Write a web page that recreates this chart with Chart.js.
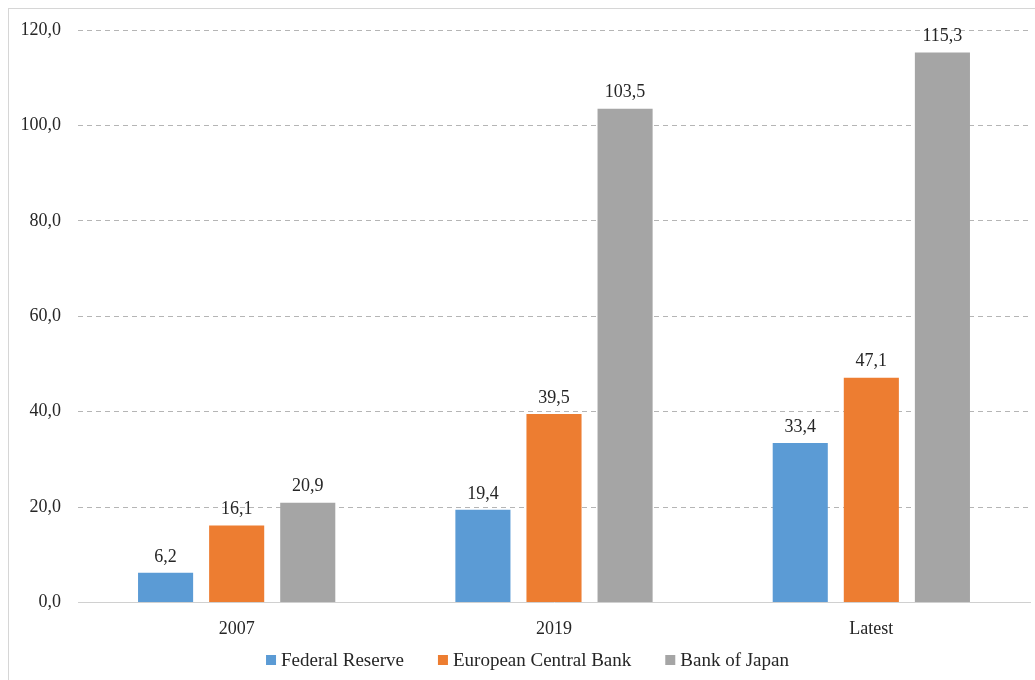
<!DOCTYPE html>
<html>
<head>
<meta charset="utf-8">
<script src="https://cdn.jsdelivr.net/npm/chart.js@4.4.1/dist/chart.umd.min.js"></script>
<style>
  html, body { margin: 0; padding: 0; background: #fff; }
  #frame { position: absolute; left: 8px; top: 8px; width: 1040px; height: 690px; border: 1px solid #d6d6d6; box-sizing: border-box; }
  #wrap { position: absolute; left: 0; top: 0; width: 1035px; height: 680px; }
</style>
</head>
<body>
<div id="frame"></div>
<div id="wrap"><canvas id="balance-chart"></canvas></div>
<script>
const categories = ['2007', '2019', 'Latest'];
const fedValues = [6.2, 19.4, 33.4];
const ecbValues = [16.1, 39.5, 47.1];
const bojValues = [20.9, 103.5, 115.3];

const fmt = v => v.toFixed(1).replace('.', ',');
const font = "'Liberation Serif', 'Times New Roman', serif";
const textColor = '#262626';

// value labels above each bar
const barLabels = {
    id: 'barLabels',
    afterDatasetsDraw(chart) {
        const ctx = chart.ctx;
        ctx.save();
        ctx.font = '18px ' + font;
        ctx.fillStyle = textColor;
        ctx.textAlign = 'center';
        ctx.textBaseline = 'bottom';
        chart.data.datasets.forEach((ds, i) => {
            chart.getDatasetMeta(i).data.forEach((bar, j) => {
                ctx.fillText(fmt(ds.data[j]), bar.x, bar.y - 7);
            });
        });
        ctx.restore();
    }
};

// legend row under the axis, wide gaps between entries
const bottomLegend = {
    id: 'bottomLegend',
    afterDraw(chart) {
        const ctx = chart.ctx;
        const box = 10, gapText = 5, gapItem = 34, y = 660;
        ctx.save();
        ctx.font = '19px ' + font;
        ctx.textBaseline = 'middle';
        const items = chart.data.datasets.map(ds => ({
            text: ds.label, color: ds.backgroundColor, w: ctx.measureText(ds.label).width
        }));
        const total = items.reduce((s, it) => s + box + gapText + it.w, 0) + gapItem * (items.length - 1);
        let x = chart.width / 2 + 10 - total / 2;
        items.forEach(it => {
            ctx.fillStyle = it.color;
            ctx.fillRect(x, y - box / 2, box, box);
            x += box + gapText;
            ctx.fillStyle = textColor;
            ctx.fillText(it.text, x, y + 1);
            x += it.w + gapItem;
        });
        ctx.restore();
    }
};

new Chart(document.getElementById('balance-chart'), {
    type: 'bar',
    data: {
        labels: categories,
        datasets: [
            { label: 'Federal Reserve', data: fedValues, backgroundColor: '#5B9BD5' },
            { label: 'European Central Bank', data: ecbValues, backgroundColor: '#ED7D31' },
            { label: 'Bank of Japan', data: bojValues, backgroundColor: '#A5A5A5' }
        ]
    },
    options: {
        responsive: true,
        maintainAspectRatio: false,
        animation: false,
        categoryPercentage: 0.672,
        barPercentage: 0.775,
        layout: { padding: { top: 30, right: 5, bottom: 32, left: 0 } },
        plugins: {
            legend: { display: false },
            tooltip: { enabled: false }
        },
        scales: {
            x: {
                grid: { display: false },
                border: { color: '#d0d0d0' },
                ticks: { color: textColor, padding: 8, font: { family: font, size: 18 } }
            },
            y: {
                min: 0,
                max: 120,
                afterFit(scale) { scale.width = 78; },
                border: { display: false },
                grid: {
                    drawTicks: false,
                    color: ctx => ctx.tick && ctx.tick.value === 0 ? 'rgba(0,0,0,0)' : '#b5b5b5'
                },
                ticks: {
                    stepSize: 20,
                    padding: 17,
                    color: textColor,
                    font: { family: font, size: 18 },
                    callback: v => fmt(v)
                }
            }
        }
    },
    plugins: [barLabels, bottomLegend, {
        id: 'dashGrid',
        beforeDraw(chart) {
            const y = chart.scales.y;
            y.options.grid.borderDash = [5, 4];
            y.options.border.dash = [5, 4];
        }
    }]
});
</script>
</body>
</html>
